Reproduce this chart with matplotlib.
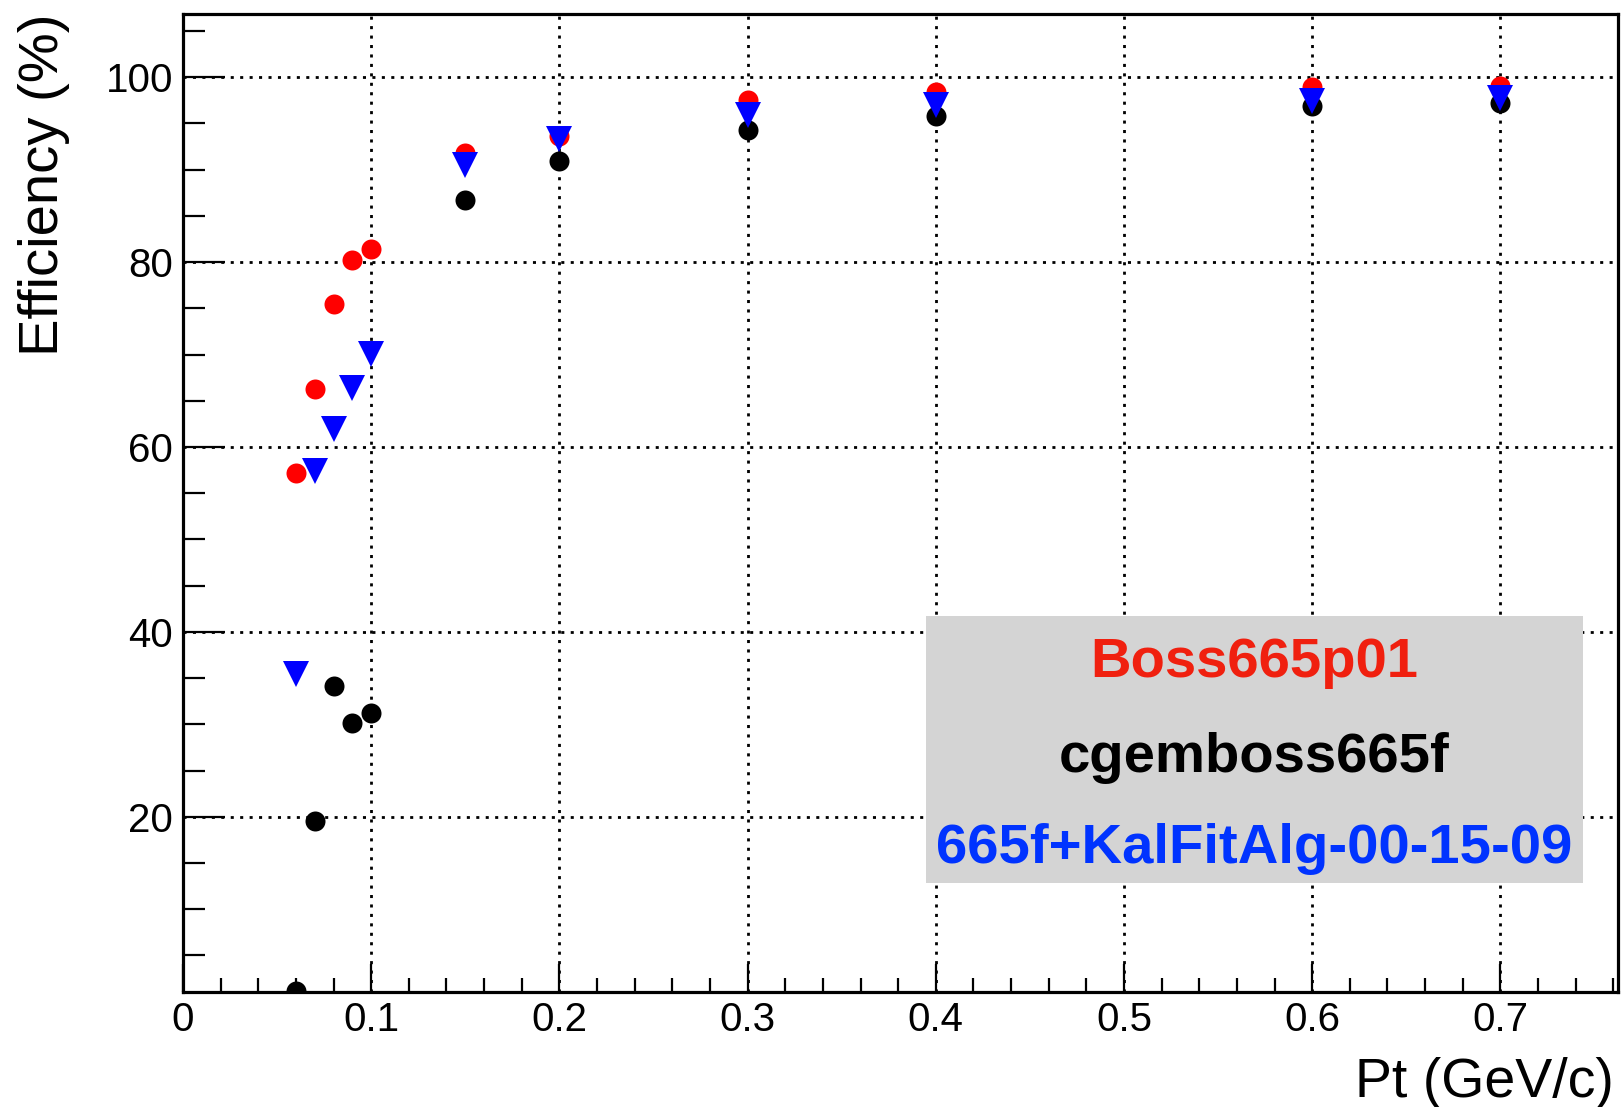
import matplotlib
matplotlib.use("Agg")
import matplotlib.pyplot as plt
from matplotlib.patches import Rectangle
from matplotlib.ticker import MultipleLocator

pt = [0.06, 0.07, 0.08, 0.09, 0.10, 0.15, 0.20, 0.30, 0.40, 0.60, 0.70]
eff_boss = [57.2, 66.3, 75.5, 80.2, 81.4, 91.8, 93.6, 97.5, 98.4, 98.9, 99.0]
eff_cgem = [1.2, 19.5, 34.1, 30.1, 31.2, 86.7, 90.9, 94.3, 95.8, 96.9, 97.2]
eff_kal = [35.4, 57.4, 61.9, 66.4, 70.1, 90.5, 93.3, 95.9, 97.0, 97.4, 97.7]

labels = ["Boss665p01", "cgemboss665f", "665f+KalFitAlg-00-15-09"]
label_colors = ["#f0200f", "#000000", "#0033ff"]

W, H = 1624, 1107


def plot_eff(oname: str) -> None:
    plt.rcParams["font.family"] = ["Liberation Sans", "DejaVu Sans"]
    f = plt.figure(figsize=(W / 100, H / 100), dpi=100)
    a = f.add_axes([183 / W, 1 - 991.7 / H, (1618 - 183) / W, (991.7 - 14) / H])

    a.plot(pt, eff_boss, "o", color="red", ms=14.4, mew=0, zorder=3)
    a.plot(pt, eff_cgem, "o", color="black", ms=14.4, mew=0, zorder=4)
    a.plot(pt, eff_kal, "v", color="blue", ms=18.7, mew=0, zorder=5)

    a.set_xlim(0, 0.7625)
    a.set_ylim(1.08, 106.84)
    a.xaxis.set_major_locator(MultipleLocator(0.1))
    a.xaxis.set_minor_locator(MultipleLocator(0.02))
    a.yaxis.set_major_locator(MultipleLocator(20))
    a.yaxis.set_minor_locator(MultipleLocator(5))
    a.set_xticks([0, 0.1, 0.2, 0.3, 0.4, 0.5, 0.6, 0.7])
    a.set_xticklabels(["0", "0.1", "0.2", "0.3", "0.4", "0.5", "0.6", "0.7"])
    a.set_yticks([20, 40, 60, 80, 100])

    a.tick_params(axis="both", which="both", direction="in", top=False, right=False,
                  labelsize=29, width=1.6, color="black")
    a.tick_params(axis="x", which="major", length=20, pad=6.5)
    a.tick_params(axis="x", which="minor", length=10)
    a.tick_params(axis="y", which="major", length=30, pad=7)
    a.tick_params(axis="y", which="minor", length=16)
    for s in a.spines.values():
        s.set_linewidth(2.3)

    a.grid(True, which="major", color="black", linewidth=2.0, linestyle=(0, (1.1, 2.3)))
    a.set_axisbelow(True)

    f.text(1614 / W, 10 / H, "Pt (GeV/c)", fontsize=40, ha="right", va="baseline")
    f.text(18 / W, 1 - 13 / H, "Efficiency (%)", fontsize=40.5, rotation=90,
           ha="left", va="top")

    box = Rectangle((926 / W, 1 - 883 / H), (1583 - 926) / W, (883 - 616) / H,
                    transform=f.transFigure, facecolor="#d4d4d4", edgecolor="none",
                    zorder=6)
    f.add_artist(box)
    for lab, col, yb in zip(labels, label_colors, [677, 772, 863]):
        f.text(1254.5 / W, 1 - yb / H, lab, color=col, fontsize=40.5, fontweight="bold",
               ha="center", va="baseline", zorder=7)

    plt.savefig(oname, dpi=100)
    plt.close()


if __name__ == "__main__":
    plot_eff("out.png")
